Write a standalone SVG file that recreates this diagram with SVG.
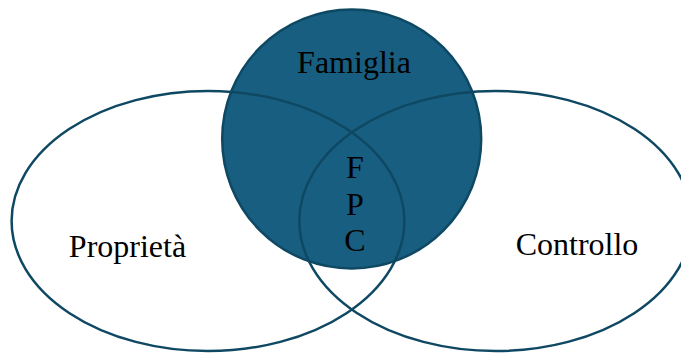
<svg xmlns="http://www.w3.org/2000/svg" width="681" height="354" viewBox="0 0 681 354">
<style>
.shape{stroke:#0E4862;stroke-width:2.5}
.lbl{font-family:"Liberation Serif","Times New Roman",serif;font-size:32px;fill:#000;text-anchor:middle}
</style>
<rect width="681" height="354" fill="#fff"/>
<g id="famiglia">
<circle class="shape" cx="351.7" cy="139" r="129.5" fill="#185E81"/>
<text class="lbl" x="354" y="73">Famiglia</text>
</g>
<g id="proprieta">
<ellipse class="shape" cx="208" cy="221" rx="196.4" ry="130" fill="none"/>
<text class="lbl" x="127.5" y="257">Proprietà</text>
</g>
<g id="controllo">
<ellipse class="shape" cx="495.7" cy="221" rx="196.4" ry="130" fill="none"/>
<text class="lbl" x="577" y="255">Controllo</text>
</g>
<g id="fpc">
<text class="lbl" x="355" y="178">F</text>
<text class="lbl" x="355" y="215">P</text>
<text class="lbl" x="355" y="251">C</text>
</g>
<g id="connectors"></g>
</svg>
